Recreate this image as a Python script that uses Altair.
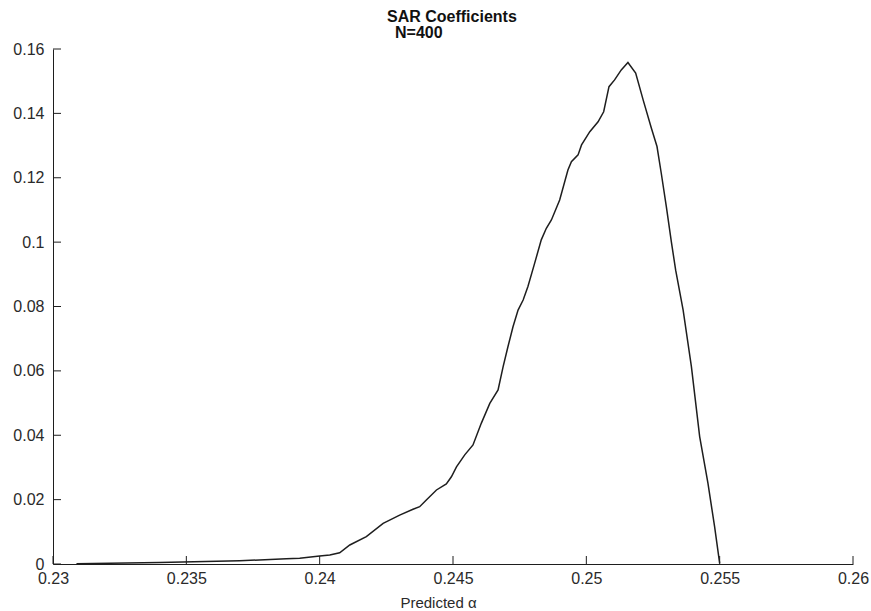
import altair as alt
import pandas as pd

# Predicted alpha (x) and coefficient density (y)
alpha = [0.23088, 0.2340, 0.2370, 0.23875, 0.23925, 0.2400, 0.24038, 0.24075,
         0.24113, 0.24175, 0.24238, 0.2430, 0.2435, 0.24375, 0.2440, 0.24438,
         0.24475, 0.24494, 0.24513, 0.24544, 0.24575, 0.24606, 0.24638, 0.24669,
         0.24688, 0.24706, 0.24725, 0.24744, 0.24763, 0.24781, 0.24806, 0.24831,
         0.24850, 0.24869, 0.24900, 0.24931, 0.24944, 0.24969, 0.24982, 0.25013,
         0.25044, 0.25065, 0.25085, 0.25106, 0.25131, 0.25156, 0.25185, 0.25213,
         0.25244, 0.25265, 0.25281, 0.25300, 0.25319, 0.25335, 0.25363, 0.25394,
         0.25425, 0.25456, 0.25481, 0.25500]
density = [0.0001, 0.0005, 0.0010, 0.0016, 0.0018, 0.0025, 0.0028, 0.0035,
           0.0059, 0.0085, 0.0126, 0.0152, 0.0170, 0.0178, 0.0199, 0.0230,
           0.0249, 0.0271, 0.0302, 0.0339, 0.0370, 0.0437, 0.0499, 0.0541,
           0.0613, 0.0675, 0.0737, 0.0789, 0.0820, 0.0862, 0.0934, 0.1007,
           0.1043, 0.1069, 0.1131, 0.1224, 0.1250, 0.1271, 0.1302, 0.1343,
           0.1374, 0.1405, 0.1483, 0.1504, 0.1535, 0.1558, 0.1525, 0.1442,
           0.1354, 0.1297, 0.1214, 0.1110, 0.1000, 0.0913, 0.0789, 0.0613,
           0.0396, 0.0251, 0.0116, 0.0002]

x_ticks = [0.23, 0.235, 0.24, 0.245, 0.25, 0.255, 0.26]
y_ticks = [0, 0.02, 0.04, 0.06, 0.08, 0.1, 0.12, 0.14, 0.16]
title_lines = ["SAR Coefficients", "N=400"]

df = pd.DataFrame({"alpha": alpha, "density": density})
dfx = pd.DataFrame({"tx": x_ticks})
dfy = pd.DataFrame({"ty": y_ticks})
dfn = pd.DataFrame({"t": [title_lines[1]]})

FONT = "Liberation Sans"
INK = "#1e1e1e"
W, H = 800, 515

xscale = alt.Scale(domain=[0.23, 0.26], nice=False, zero=False)
yscale = alt.Scale(domain=[0, 0.16], nice=False)

xaxis = alt.Axis(values=x_ticks, format="~g", title="Predicted  \u03b1",
                 ticks=False, labelPadding=6, grid=False, labelFlush=False,
                 labelOverlap=False,
                 titleX=385, titleY=43, titleAlign="center",
                 titleBaseline="alphabetic", titleFontSize=15,
                 titleFontWeight="normal")
yaxis = alt.Axis(values=y_ticks, format="~g", title=None, labelFlush=False,
                 labelOverlap=False,
                 ticks=False, labelPadding=9, grid=False)

line = alt.Chart(df).mark_line(color=INK, strokeWidth=1.5).encode(
    x=alt.X("alpha:Q", scale=xscale, axis=xaxis),
    y=alt.Y("density:Q", scale=yscale, axis=yaxis),
)

xt = alt.Chart(dfx).mark_rule(color=INK, strokeWidth=1).encode(
    x=alt.X("tx:Q", scale=xscale, axis=xaxis),
    y=alt.value(H),
    y2=alt.value(H - 8),
)

yt = alt.Chart(dfy).mark_rule(color=INK, strokeWidth=1).encode(
    y=alt.Y("ty:Q", scale=yscale, axis=yaxis),
    x=alt.value(0),
    x2=alt.value(8),
)

sub = alt.Chart(dfn).mark_text(
    align="left", baseline="alphabetic", font=FONT, fontSize=16,
    fontWeight="bold", color="#111",
).encode(text="t:N", x=alt.value(342), y=alt.value(-11))

chart = alt.layer(line, xt, yt, sub).properties(
    width=W, height=H,
    padding={"left": 53, "top": 49, "right": 18, "bottom": 47},
    autosize=alt.AutoSizeParams(type="none"),
    background="white",
    title=alt.TitleParams(
        text=title_lines[0],
        anchor="start", align="left", dx=334, dy=27, offset=11, frame="group",
        font=FONT, fontSize=16, fontWeight="bold", color="#111",
        baseline="bottom",
    ),
).configure_view(stroke=None).configure_axis(
    domainColor=INK, domainWidth=1,
    labelFont=FONT, labelFontSize=16, labelColor="#2a2a2a",
    titleFont=FONT, titleColor="#2a2a2a",
)

chart.save("out.html", embed_options={"renderer": "svg", "actions": False})
